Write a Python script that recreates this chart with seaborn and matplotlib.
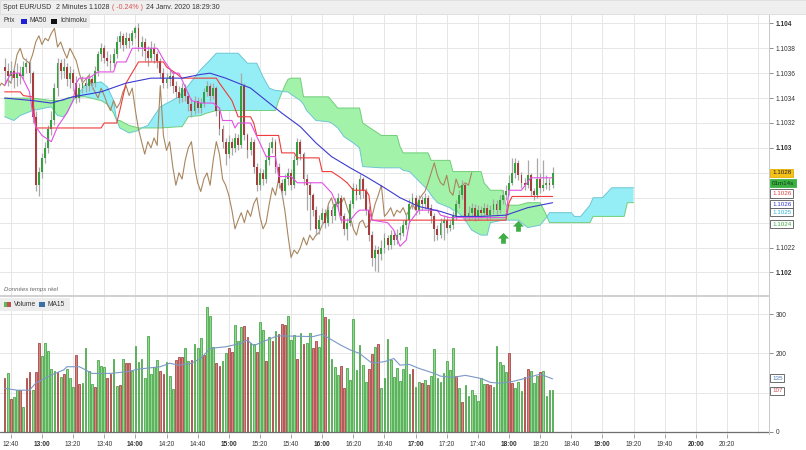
import numpy as np
import matplotlib
matplotlib.use("Agg")
import matplotlib.pyplot as plt
from matplotlib.path import Path
from matplotlib.patches import Rectangle
import seaborn as sns

# ---------------- data ----------------
first_bar_time = "12:36"          # 2-minute bars
bar_minutes = 2
first_open = 1.10365

close = [1.10362,1.10358,1.10362,1.10356,1.10360,1.10358,1.10365,1.10368,1.10360,1.10325,
         1.10270,1.10281,1.10292,1.10300,1.10315,1.10322,1.10348,1.10368,1.10362,1.10365,
         1.10355,1.10360,1.10352,1.10340,1.10348,1.10352,1.10350,1.10355,1.10352,1.10362,
         1.10375,1.10380,1.10372,1.10370,1.10368,1.10375,1.10385,1.10390,1.10383,1.10388,
         1.10386,1.10392,1.10396,1.10381,1.10385,1.10378,1.10372,1.10380,1.10375,1.10370,
         1.10360,1.10352,1.10355,1.10358,1.10350,1.10345,1.10340,1.10348,1.10342,1.10335,
         1.10330,1.10338,1.10332,1.10336,1.10345,1.10350,1.10342,1.10348,1.10330,1.10315,
         1.10305,1.10295,1.10305,1.10300,1.10308,1.10302,1.10350,1.10310,1.10298,1.10305,
         1.10285,1.10270,1.10280,1.10275,1.10290,1.10300,1.10305,1.10285,1.10272,1.10265,
         1.10275,1.10280,1.10270,1.10290,1.10305,1.10295,1.10275,1.10270,1.10262,1.10250,
         1.10235,1.10242,1.10248,1.10240,1.10250,1.10245,1.10255,1.10260,1.10245,1.10235,
         1.10240,1.10255,1.10268,1.10262,1.10275,1.10265,1.10250,1.10230,1.10212,1.10218,
         1.10215,1.10220,1.10228,1.10222,1.10230,1.10226,1.10230,1.10232,1.10238,1.10242,
         1.10255,1.10260,1.10250,1.10258,1.10255,1.10260,1.10252,1.10245,1.10235,1.10230,
         1.10240,1.10242,1.10236,1.10238,1.10245,1.10255,1.10262,1.10270,1.10245,1.10248,
         1.10252,1.10245,1.10250,1.10248,1.10252,1.10246,1.10250,1.10255,1.10250,1.10258,
         1.10262,1.10265,1.10272,1.10280,1.10288,1.10278,1.10272,1.10270,1.10278,1.10265,
         1.10262,1.10275,1.10268,1.10270,1.10272,1.10270,1.10280]

high = [1.10372,1.10368,1.10370,1.10365,1.10368,1.10366,1.10370,1.10372,1.10370,1.10362,
        1.10330,1.10285,1.10296,1.10305,1.10318,1.10330,1.10352,1.10372,1.10371,1.10372,
        1.10368,1.10366,1.10363,1.10358,1.10352,1.10358,1.10356,1.10360,1.10358,1.10366,
        1.10378,1.10384,1.10383,1.10378,1.10375,1.10380,1.10390,1.10394,1.10392,1.10393,
        1.10392,1.10395,1.10398,1.10400,1.10390,1.10388,1.10382,1.10386,1.10384,1.10378,
        1.10372,1.10364,1.10360,1.10364,1.10362,1.10354,1.10350,1.10352,1.10351,1.10345,
        1.10340,1.10342,1.10341,1.10340,1.10348,1.10354,1.10352,1.10352,1.10350,1.10333,
        1.10318,1.10308,1.10310,1.10308,1.10312,1.10311,1.10360,1.10352,1.10312,1.10309,
        1.10307,1.10288,1.10284,1.10283,1.10294,1.10305,1.10309,1.10307,1.10288,1.10275,
        1.10279,1.10284,1.10283,1.10294,1.10308,1.10307,1.10297,1.10279,1.10273,1.10264,
        1.10253,1.10246,1.10252,1.10251,1.10254,1.10253,1.10260,1.10264,1.10262,1.10248,
        1.10244,1.10258,1.10272,1.10271,1.10279,1.10277,1.10268,1.10253,1.10233,1.10222,
        1.10221,1.10226,1.10232,1.10230,1.10234,1.10233,1.10235,1.10237,1.10242,1.10247,
        1.10259,1.10264,1.10262,1.10262,1.10261,1.10264,1.10262,1.10255,1.10248,1.10238,
        1.10244,1.10246,1.10245,1.10242,1.10249,1.10258,1.10266,1.10274,1.10272,1.10253,
        1.10256,1.10255,1.10254,1.10253,1.10256,1.10255,1.10254,1.10259,1.10258,1.10262,
        1.10266,1.10270,1.10278,1.10292,1.10292,1.10290,1.10281,1.10276,1.10290,1.10280,
        1.10268,1.10292,1.10280,1.10290,1.10278,1.10276,1.10285]

low = [1.10352,1.10350,1.10352,1.10348,1.10350,1.10351,1.10355,1.10360,1.10352,1.10320,
       1.10265,1.10261,1.10276,1.10288,1.10296,1.10310,1.10318,1.10342,1.10355,1.10356,
       1.10350,1.10348,1.10346,1.10336,1.10337,1.10344,1.10345,1.10346,1.10347,1.10349,
       1.10358,1.10370,1.10368,1.10366,1.10362,1.10365,1.10372,1.10380,1.10378,1.10380,
       1.10380,1.10383,1.10388,1.10378,1.10374,1.10370,1.10366,1.10370,1.10368,1.10364,
       1.10356,1.10348,1.10348,1.10350,1.10344,1.10340,1.10336,1.10337,1.10338,1.10330,
       1.10325,1.10327,1.10328,1.10328,1.10333,1.10342,1.10338,1.10339,1.10326,1.10310,
       1.10300,1.10286,1.10292,1.10294,1.10297,1.10298,1.10300,1.10306,1.10292,1.10294,
       1.10280,1.10265,1.10266,1.10270,1.10272,1.10286,1.10296,1.10280,1.10268,1.10260,
       1.10262,1.10270,1.10266,1.10268,1.10286,1.10290,1.10270,1.10250,1.10234,1.10245,
       1.10230,1.10231,1.10238,1.10236,1.10237,1.10240,1.10242,1.10250,1.10240,1.10230,
       1.10226,1.10237,1.10252,1.10258,1.10259,1.10260,1.10246,1.10225,1.10205,1.10201,
       1.10200,1.10210,1.10216,1.10218,1.10219,1.10222,1.10223,1.10226,1.10229,1.10235,
       1.10240,1.10251,1.10246,1.10247,1.10250,1.10251,1.10248,1.10240,1.10225,1.10226,
       1.10228,1.10226,1.10232,1.10233,1.10235,1.10242,1.10252,1.10259,1.10241,1.10242,
       1.10244,1.10241,1.10242,1.10244,1.10245,1.10242,1.10243,1.10247,1.10246,1.10248,
       1.10255,1.10258,1.10262,1.10270,1.10276,1.10274,1.10268,1.10266,1.10268,1.10261,
       1.10258,1.10260,1.10264,1.10265,1.10267,1.10266,1.10268]

volume = [136,149,83,89,106,106,64,136,153,106,
          152,226,193,227,206,160,155,153,140,147,
          160,138,115,196,121,124,213,155,121,115,
          183,169,166,136,147,186,118,119,185,175,
          175,155,219,179,187,138,245,148,166,183,
          155,147,179,142,109,182,190,190,213,181,
          183,223,213,240,196,318,296,216,175,169,
          180,200,213,203,272,233,268,271,243,226,
          223,204,281,260,180,243,232,257,249,274,
          272,296,234,247,186,251,223,227,251,213,
          233,216,315,292,287,185,166,145,169,112,
          162,132,287,158,221,170,128,160,198,217,
          223,112,136,237,183,139,162,130,160,216,
          147,159,115,126,124,132,119,142,211,136,
          128,151,180,158,213,142,112,77,119,92,
          106,94,78,138,121,121,119,113,219,179,
          170,153,202,124,112,126,104,141,160,155,
          124,143,153,155,92,106,107]

# 1 = green (up) volume bar, 0 = red (down) volume bar
volume_up = [0,1,0,1,1,0,1,0,0,1, 0,0,1,1,1,1,1,0,1,0,
             1,1,1,0,0,1,1,1,1,0, 1,1,1,0,0,1,1,0,1,0,
             0,1,1,1,1,1,1,1,1,1, 0,0,1,1,1,0,0,0,1,1,
             0,1,1,1,0,1,1,1,0,0, 1,1,0,0,1,1,1,0,0,1,
             1,0,1,1,0,1,0,1,0,0,
             0,1,1,1,0,1,0,1,1,0, 0,1,1,0,1,1,1,1,0,0,
             1,1,1,1,1,1,1,0,0,1, 0,1,1,1,1,1,1,1,1,1,
             1,0,1,1,0,1,0,1,1,1, 1,1,1,1,1,0,1,0,1,1,
             1,1,1,1,1,0,0,1,1,1, 1,1,0,0,1,1,1,0,0,1,
             1,1,0,1,1,1,1]

ma50_idx = [0,9,15,22,31,39,47,57,63,66,71,79,84,89,95,100,105,111,116,122,127,133,140,145,153,161,168,172,176]
ma50_val = [1.10340,1.10338,1.10336,1.10341,1.10345,1.10352,1.10356,1.10356,1.10359,1.10360,
            1.10356,1.10348,1.10338,1.10328,1.10317,1.10304,1.10293,1.10284,1.10277,1.10268,
            1.10260,1.10253,1.10249,1.10245,1.10245,1.10246,1.10252,1.10254,1.10256]

tenkan_idx = [0,2,5,7,8,9,10,12,15,17,20,22,23,24,27,30,35,36,39,41,49,51,54,56,58,60,63,67,69,70,
              73,74,75,79,84,87,88,92,94,102,105,107,108,111,113,114,117,118,123,125,127,129,130,
              133,139,140,143,161,162,166,169,176]
tenkan_val = [1.10350,1.10360,1.10360,1.10350,1.10345,1.10328,1.10317,1.10310,1.10305,1.10317,
              1.10328,1.10338,1.10352,1.10356,1.10356,1.10361,1.10361,1.10369,1.10369,1.10380,
              1.10380,1.10371,1.10360,1.10360,1.10349,1.10338,1.10336,1.10336,1.10332,1.10322,
              1.10322,1.10316,1.10320,1.10320,1.10293,1.10293,1.10277,1.10277,1.10272,1.10272,
              1.10264,1.10253,1.10242,1.10242,1.10248,1.10250,1.10250,1.10242,1.10240,1.10234,
              1.10221,1.10226,1.10240,1.10250,1.10250,1.10246,1.10244,1.10244,1.10266,1.10266,
              1.10276,1.10276]

kijun_idx = [0,5,6,9,10,31,32,36,37,39,43,51,52,55,57,68,69,73,75,79,80,81,88,89,93,94,101,102,
             105,108,110,112,116,117,118,161,162,163,176]
kijun_val = [1.10345,1.10345,1.10342,1.10341,1.10316,1.10316,1.10320,1.10320,1.10330,1.10352,
             1.10369,1.10369,1.10365,1.10360,1.10356,1.10356,1.10352,1.10338,1.10325,1.10325,
             1.10320,1.10310,1.10310,1.10296,1.10296,1.10292,1.10292,1.10281,1.10281,1.10276,
             1.10272,1.10266,1.10266,1.10262,1.10242,1.10242,1.10256,1.10261,1.10261]

chikou_shift = 26

cloud_idx = [0,3,5,9,15,17,19,20,22,23,26,31,33,35,36,37,40,43,44,46,50,56,57,59,63,65,68,75,78,81,
             83,85,87,88,90,91,92,95,96,97,100,104,105,107,109,112,114,115,121,126,127,128,130,136,
             137,139,143,144,145,148,150,153,154,155,156,160,161,165,168,172,174,175,182,183,185,
             186,188,189,192,195,199,200,202]
span_a = [1.10340,1.10340,1.10340,1.10340,1.10338,1.10338,1.10338,1.10340,1.10341,1.10341,
          1.10341,1.10338,1.10335,1.10328,1.10322,1.10322,1.10318,1.10316,1.10316,1.10316,
          1.10316,1.10317,1.10317,1.10325,1.10326,1.10328,1.10330,1.10330,1.10330,1.10330,
          1.10330,1.10330,1.10330,1.10338,1.10350,1.10355,1.10356,1.10356,1.10341,1.10341,
          1.10341,1.10341,1.10338,1.10332,1.10332,1.10332,1.10332,1.10320,1.10310,1.10310,
          1.10301,1.10296,1.10296,1.10296,1.10290,1.10290,1.10290,1.10281,1.10281,1.10281,
          1.10281,1.10281,1.10272,1.10269,1.10266,1.10266,1.10254,1.10254,1.10256,1.10256,
          1.10246,1.10240,1.10240,1.10240,1.10240,1.10240,1.10240,1.10245,1.10245,1.10245,
          1.10245,1.10256,1.10256]
span_b = [1.10325,1.10322,1.10326,1.10330,1.10333,1.10326,1.10325,1.10328,1.10338,1.10341,
          1.10351,1.10353,1.10349,1.10338,1.10322,1.10316,1.10312,1.10314,1.10316,1.10318,
          1.10333,1.10341,1.10345,1.10350,1.10363,1.10368,1.10376,1.10376,1.10368,1.10368,
          1.10357,1.10348,1.10346,1.10346,1.10345,1.10345,1.10343,1.10338,1.10335,1.10330,
          1.10322,1.10321,1.10320,1.10316,1.10309,1.10304,1.10300,1.10285,1.10284,1.10284,
          1.10284,1.10282,1.10281,1.10266,1.10262,1.10256,1.10252,1.10250,1.10250,1.10242,
          1.10234,1.10230,1.10230,1.10230,1.10240,1.10242,1.10242,1.10242,1.10236,1.10238,
          1.10244,1.10248,1.10248,1.10245,1.10245,1.10248,1.10254,1.10260,1.10260,1.10268,
          1.10268,1.10268,1.10268]

ma15_idx = [0,4,8,10,15,19,20,24,26,28,34,39,43,50,53,56,60,63,66,71,76,78,80,83,87,88,99,102,108,
            111,114,118,122,125,127,130,133,138,140,144,148,153,156,159,163,168,172,176]
ma15_val = [111,106,106,124,145,158,166,166,158,149,149,153,160,166,175,170,175,187,213,217,
            226,234,220,230,243,245,243,249,221,209,200,175,179,187,170,172,162,149,142,139,
            144,136,126,124,128,138,147,135]

signal_idx = [160, 165]
signal_price = [1.10228, 1.10237]

x_tick_labels = ["12:40","13:00","13:20","13:40","14:00","14:20","14:40","15:00","15:20","15:40",
                 "16:00","16:20","16:40","17:00","17:20","17:40","18:00","18:20","18:40","19:00",
                 "19:20","19:40","20:00","20:20"]
extra_grid_time = "20:40"
price_ticks = [1.102,1.1022,1.1024,1.1026,1.1028,1.103,1.1032,1.1034,1.1036,1.1038,1.104]
price_ticks_hidden = [1.1024, 1.1026, 1.1028]   # covered by the value boxes in the reference
volume_ticks = [0,100,200,300]
volume_ticks_hidden = [100]

header_parts = ["Spot EUR/USD", "2 Minutes", "1.1028", "( -0.24% )", "24 Janv. 2020 18:29:30"]
countdown = "01m14s"

# ---------------- drawing ----------------
sns.set_theme(style="white")
plt.rcParams["font.family"] = ["Liberation Sans", "DejaVu Sans"]

W, H = 806, 450
fig = plt.figure(figsize=(W / 100, H / 100), dpi=100)
fig.patch.set_facecolor("white")

def fx(px):
    return px / W

def fy(py):
    return 1 - py / H

def bar_of(t):
    h, m = map(int, t.split(":"))
    h0, m0 = map(int, first_bar_time.split(":"))
    return ((h * 60 + m) - (h0 * 60 + m0)) / bar_minutes

close = np.array(close)
high = np.array(high)
low = np.array(low)
n = len(close)
xb = np.arange(n)
opn = np.concatenate([[first_open], close[:-1]])
up = close > opn
down = close < opn

XMIN, XMAX = -1.48, 245.5
tick_pos = [bar_of(t) for t in x_tick_labels]
grid_pos = tick_pos + [bar_of(extra_grid_time)]

GRID = "#e6e6e6"
TXT = "#333333"

# ---- price panel ----
ax = fig.add_axes([0, fy(295), fx(769), (295 - 15) / H])
ax.set_facecolor("white")
ax.set_xlim(XMIN, XMAX)
ax.set_ylim(1.101819, 1.104067)
for gp in grid_pos:
    ax.axvline(gp, color=GRID, lw=0.7, zorder=0)
for pt in price_ticks:
    ax.axhline(pt, color=GRID, lw=0.7, zorder=0)

# Ichimoku cloud
ca = np.array(span_a)
cb = np.array(span_b)
ax.fill_between(cloud_idx, ca, cb, where=ca >= cb, interpolate=True,
                color="#a3f2aa", lw=0, zorder=1)
ax.fill_between(cloud_idx, ca, cb, where=ca <= cb, interpolate=True,
                color="#95eef5", lw=0, zorder=1)
sns.lineplot(x=cloud_idx, y=span_a, ax=ax, color="#6fce78", linewidth=0.7,
             estimator=None, sort=False, legend=False, zorder=2)
sns.lineplot(x=cloud_idx, y=span_b, ax=ax, color="#6cc6d4", linewidth=0.7,
             estimator=None, sort=False, legend=False, zorder=2)

# chikou (close drawn 26 bars back)
sns.lineplot(x=xb - chikou_shift, y=close, ax=ax, color="#a8865e", linewidth=0.8,
             estimator=None, sort=False, legend=False, zorder=3)

# candles
ax.vlines(xb, low, high, color="#a8a8a8", lw=0.9, zorder=4)
ax.bar(xb[up], (close - opn)[up], bottom=opn[up], width=0.6, color="#34a03e",
       linewidth=0, zorder=5)
ax.bar(xb[down], (opn - close)[down], bottom=close[down], width=0.6, color="#a63c3c",
       linewidth=0, zorder=5)

# kijun, tenkan, MA50
sns.lineplot(x=kijun_idx, y=kijun_val, ax=ax, color="#ee3c3c", linewidth=0.8,
             estimator=None, sort=False, legend=False, zorder=6)
sns.lineplot(x=tenkan_idx, y=tenkan_val, ax=ax, color="#e34fe3", linewidth=0.8,
             estimator=None, sort=False, legend=False, zorder=6)
sns.lineplot(x=ma50_idx, y=ma50_val, ax=ax, color="#3b3bcf", linewidth=0.8,
             estimator=None, sort=False, legend=False, zorder=7)

# signal arrows
arrow = Path([(0, 1), (-0.95, 0.05), (-0.42, 0.05), (-0.42, -0.95), (0.42, -0.95),
              (0.42, 0.05), (0.95, 0.05), (0, 1)],
             [Path.MOVETO] + [Path.LINETO] * 6 + [Path.CLOSEPOLY])
ax.plot(signal_idx, signal_price, linestyle="none", marker=arrow, ms=7.5,
        color="#3cb043", mec="#2f9a3a", mew=0.3, zorder=8)

ax.yaxis.tick_right()
ax.set_yticks(price_ticks)
ax.set_yticklabels(["" if any(abs(p - h) < 1e-9 for h in price_ticks_hidden)
                    else f"{p:.4f}".rstrip("0") for p in price_ticks])
for lab, p in zip(ax.get_yticklabels(), price_ticks):
    if abs(p * 1000 - round(p * 1000)) < 1e-6:
        lab.set_fontweight("bold")
ax.tick_params(axis="y", right=True, left=False, length=3, width=0.6, color="#777777",
               labelsize=4.7, labelcolor=TXT, pad=2)
ax.set_xticks(tick_pos)
ax.tick_params(axis="x", bottom=False, labelbottom=False)
ax.set_xlabel("")
ax.set_ylabel("")
for s in ["top", "left"]:
    ax.spines[s].set_visible(False)
ax.spines["right"].set_color("#c8c8c8")
ax.spines["bottom"].set_color("#d0d0d0")
for s in ["right", "bottom"]:
    ax.spines[s].set_linewidth(0.7)

# ---- volume panel ----
axv = fig.add_axes([0, fy(434), fx(769), (434 - 296) / H])
axv.set_facecolor("white")
axv.set_xlim(XMIN, XMAX)
axv.set_ylim(-5.9, 346.8)
for gp in grid_pos:
    axv.axvline(gp, color=GRID, lw=0.7, zorder=0)
for vt in volume_ticks[1:]:
    axv.axhline(vt, color=GRID, lw=0.7, zorder=0)
vol = np.array(volume)
vup = np.array(volume_up, dtype=bool)
axv.bar(xb[vup], vol[vup], width=0.56, color="#8fd88f",
        edgecolor="#41a041", linewidth=0.55, zorder=2)
axv.bar(xb[~vup], vol[~vup], width=0.56, color="#d48583",
        edgecolor="#a33c3a", linewidth=0.55, zorder=2)
sns.lineplot(x=ma15_idx, y=ma15_val, ax=axv, color="#7b98c6", linewidth=0.8,
             estimator=None, sort=False, legend=False, zorder=3)
axv.axhline(0, color="#6f6f6f", lw=0.9, zorder=3)

axv.yaxis.tick_right()
axv.set_yticks(volume_ticks)
axv.set_yticklabels(["" if v in volume_ticks_hidden else str(v) for v in volume_ticks])
axv.tick_params(axis="y", right=True, left=False, length=3, width=0.6, color="#777777",
                labelsize=4.7, labelcolor=TXT, pad=2)
axv.set_xticks(tick_pos)
axv.set_xticklabels(x_tick_labels)
for lab, t in zip(axv.get_xticklabels(), x_tick_labels):
    if t.endswith(":00"):
        lab.set_fontweight("bold")
axv.tick_params(axis="x", bottom=True, length=3, width=0.6, color="#999999",
                labelsize=4.7, labelcolor=TXT, pad=2)
axv.set_xlabel("")
axv.set_ylabel("")
for s in ["left", "bottom"]:
    axv.spines[s].set_visible(False)
axv.spines["top"].set_color("#d0d0d0")
axv.spines["right"].set_color("#c8c8c8")
for s in ["right", "top"]:
    axv.spines[s].set_linewidth(0.7)

# ---- header ----
fig.patches.append(Rectangle((0, fy(14)), 1, 14 / H, transform=fig.transFigure,
                             fc="#efefef", ec="#dcdcdc", lw=0.6, zorder=0))
hx = [3, 56, 88, 112, 146]
hc = [TXT, TXT, TXT, "#d9534f", TXT]
for t, x0, c in zip(header_parts, hx, hc):
    fig.text(fx(x0), fy(7.5), t, fontsize=5.0, color=c, va="center", ha="left")

# price legend
fig.patches.append(Rectangle((0, fy(28)), fx(90), 13 / H, transform=fig.transFigure,
                             fc="#ededed", ec="none", zorder=5))
fig.text(fx(4), fy(21), "Prix", fontsize=4.8, color=TXT, va="center", zorder=6)
fig.patches.append(Rectangle((fx(21), fy(23.5)), fx(6), 5 / H, transform=fig.transFigure,
                             fc="#1f1fd6", ec="none", zorder=6))
fig.text(fx(29.5), fy(21), "MA50", fontsize=4.8, color=TXT, va="center", zorder=6)
fig.patches.append(Rectangle((fx(51), fy(23.5)), fx(6), 5 / H, transform=fig.transFigure,
                             fc="#111111", ec="none", zorder=6))
fig.text(fx(60), fy(21), "Ichimoku", fontsize=4.8, color=TXT, va="center", zorder=6)

fig.text(fx(4), fy(289), "Données temps réel", fontsize=4.3, color="#666666",
         style="italic", va="center")

# volume legend
fig.patches.append(Rectangle((0, fy(311)), fx(70), 13 / H, transform=fig.transFigure,
                             fc="#ededed", ec="none", zorder=5))
fig.patches.append(Rectangle((fx(4), fy(306.5)), fx(3.5), 5 / H, transform=fig.transFigure,
                             fc="#5cb85c", ec="none", zorder=6))
fig.patches.append(Rectangle((fx(7.5), fy(306.5)), fx(3.5), 5 / H, transform=fig.transFigure,
                             fc="#c0504d", ec="none", zorder=6))
fig.text(fx(13.5), fy(304), "Volume", fontsize=4.8, color=TXT, va="center", zorder=6)
fig.patches.append(Rectangle((fx(39), fy(306.5)), fx(6), 5 / H, transform=fig.transFigure,
                             fc="#3a6ea5", ec="none", zorder=6))
fig.text(fx(48), fy(304), "MA15", fontsize=4.8, color=TXT, va="center", zorder=6)

# ---- right-hand value labels ----
def side_label(axis, val, text, fc, ec, tc, dy=0.0, z=10):
    axis.annotate(text, xy=(1, val), xycoords=("axes fraction", "data"),
                  xytext=(2.2, dy), textcoords="offset points", ha="left", va="center",
                  fontsize=4.5, color=tc, annotation_clip=False, zorder=z,
                  bbox=dict(boxstyle="square,pad=0.26", fc=fc, ec=ec, lw=0.6))

last = n - 1
a_last = float(np.interp(last, cloud_idx, span_a))
b_last = float(np.interp(last, cloud_idx, span_b))
side_label(ax, a_last, f"{a_last:.4f}", "white", "#555555", "#3cb043", dy=-1.2, z=10)
side_label(ax, b_last, f"{b_last:.4f}", "white", "#555555", "#2fb4dc", dy=0.3, z=11)
side_label(ax, kijun_val[-1], f"{kijun_val[-1]:.4f}", "white", "#555555", "#e04040", dy=2.2, z=12)
side_label(ax, ma50_val[-1], f"{ma50_val[-1]:.4f}", "white", "#555555", "#3b3bcf", dy=-1.0, z=13)
side_label(ax, close[-1], countdown, "#3cb043", "#3cb043", "#0d3d0d", dy=-7.4, z=14)
side_label(ax, close[-1], f"{close[-1]:.4f}", "#f5c21b", "#e3ad00", "#222222", z=15)

side_label(axv, volume[-1], str(volume[-1]), "white", "#555555", "#d0505a", dy=-0.6, z=10)
side_label(axv, ma15_val[-1], str(ma15_val[-1]), "white", "#555555", "#4a78b5", dy=0.6, z=11)

fig.savefig("out.png", dpi=100, facecolor="white")
